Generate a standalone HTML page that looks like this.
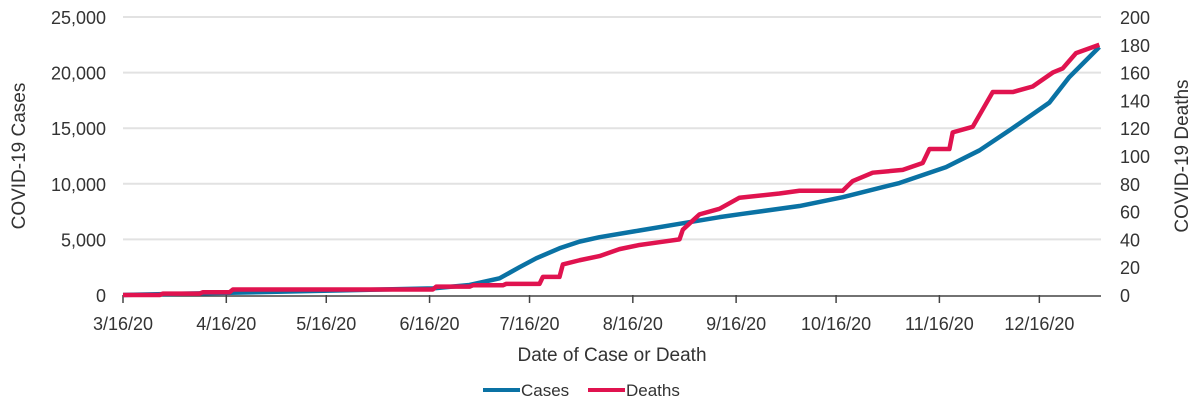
<!DOCTYPE html>
<html><head><meta charset="utf-8"><style>
body{margin:0;background:#fff;font-family:"Liberation Sans",sans-serif}
svg text{fill:#333;font-family:"Liberation Sans",sans-serif}
</style></head><body>
<svg width="1200" height="412" viewBox="0 0 1200 412">
<g id="grid"></g>
<g id="ticks"></g>
<g id="series"></g>
<text x="25" y="156" font-size="19" text-anchor="middle" transform="rotate(-90 25 156)">COVID-19 Cases</text>
<text x="1188" y="156" font-size="19" text-anchor="middle" transform="rotate(-90 1188 156)">COVID-19 Deaths</text>
<text x="612" y="361" font-size="19" text-anchor="middle">Date of Case or Death</text>
<g>
<line x1="483" y1="390" x2="520" y2="390" stroke="#0a72a4" stroke-width="4"/>
<text x="521" y="396" font-size="17">Cases</text>
<line x1="588" y1="390" x2="625" y2="390" stroke="#e0134f" stroke-width="4"/>
<text x="626" y="396" font-size="17">Deaths</text>
</g>
</svg>
<script>
const xTickLabels=["3/16/20","4/16/20","5/16/20","6/16/20","7/16/20","8/16/20","9/16/20","10/16/20","11/16/20","12/16/20"];
const xTickDays=[0,31,61,92,122,153,184,214,245,275];
const leftTicks=[0,5000,10000,15000,20000,25000];
const rightTicks=[0,20,40,60,80,100,120,140,160,180,200];
const caseDays=[0,32,93,104,113,119,124,131,137,143,155,167,179,186,203,216,233,247,257,266,278,284,293];
const caseValues=[0,200,600,900,1500,2500,3300,4200,4800,5200,5800,6400,7000,7300,8000,8800,10070,11500,13000,14800,17300,19600,22300];
const deathDays=[0,11,12,23,24,32,33,93,94,104,105,114,115,125,126,131,132,137,143,149,155,161,167,168,173,179,185,197,203,216,219,225,234,240,242,248,249,255,261,267,273,279,282,286,293];
const deathValues=[0,0,1,1,2,2,4,4,6,6,7,7,8,8,13,13,22,25,28,33,36,38,40,47,58,62,70,73,75,75,82,88,90,95,105,105,117,121,146,146,150,160,163,174,180];
const X0=123,X1=1101,Y0=295,Y1=17,DAYS=293.5;
const xs=d=>X0+d/DAYS*(X1-X0);
const yl=v=>Y0-v/25000*(Y0-Y1);
const yr=v=>Y0-v/200*(Y0-Y1);
const NS="http://www.w3.org/2000/svg";
function mk(p,t,a){const e=document.createElementNS(NS,t);for(const k in a)e.setAttribute(k,a[k]);p.appendChild(e);return e;}
const grid=document.getElementById('grid'),ticks=document.getElementById('ticks'),series=document.getElementById('series');
leftTicks.forEach(v=>{
 if(v>0){const g=mk(grid,'line',{x1:X0,x2:X1,y1:yl(v),y2:yl(v),stroke:'#e2e2e2','stroke-width':2});
 
 }
 const t=mk(ticks,'text',{x:106,y:yl(v)+7,'font-size':18,'text-anchor':'end'});t.textContent=v.toLocaleString('en-US');
 
 
});
rightTicks.forEach(v=>{
 const t=mk(ticks,'text',{x:1120,y:yr(v)+7,'font-size':18});t.textContent=v;
 
 
});
const ax=mk(ticks,'line',{x1:X0,x2:X1,y1:Y0+1,y2:Y0+1,stroke:'#444','stroke-width':1.5});


xTickDays.forEach((d,i)=>{
 const l=mk(ticks,'line',{x1:xs(d),x2:xs(d),y1:Y0,y2:Y0+8,stroke:'#444','stroke-width':1.5});
 
 
 const t=mk(ticks,'text',{x:xs(d),y:330,'font-size':18,'text-anchor':'middle'});t.textContent=xTickLabels[i];
 
 
});
const cp=mk(series,'polyline',{points:caseDays.map((d,i)=>xs(d)+','+yl(caseValues[i])).join(' '),fill:'none',stroke:'#0a72a4','stroke-width':4.5,'stroke-linejoin':'round'});


const dp=mk(series,'polyline',{points:deathDays.map((d,i)=>xs(d)+','+yr(deathValues[i])).join(' '),fill:'none',stroke:'#e0134f','stroke-width':4.5,'stroke-linejoin':'round'});


</script>
</body></html>
